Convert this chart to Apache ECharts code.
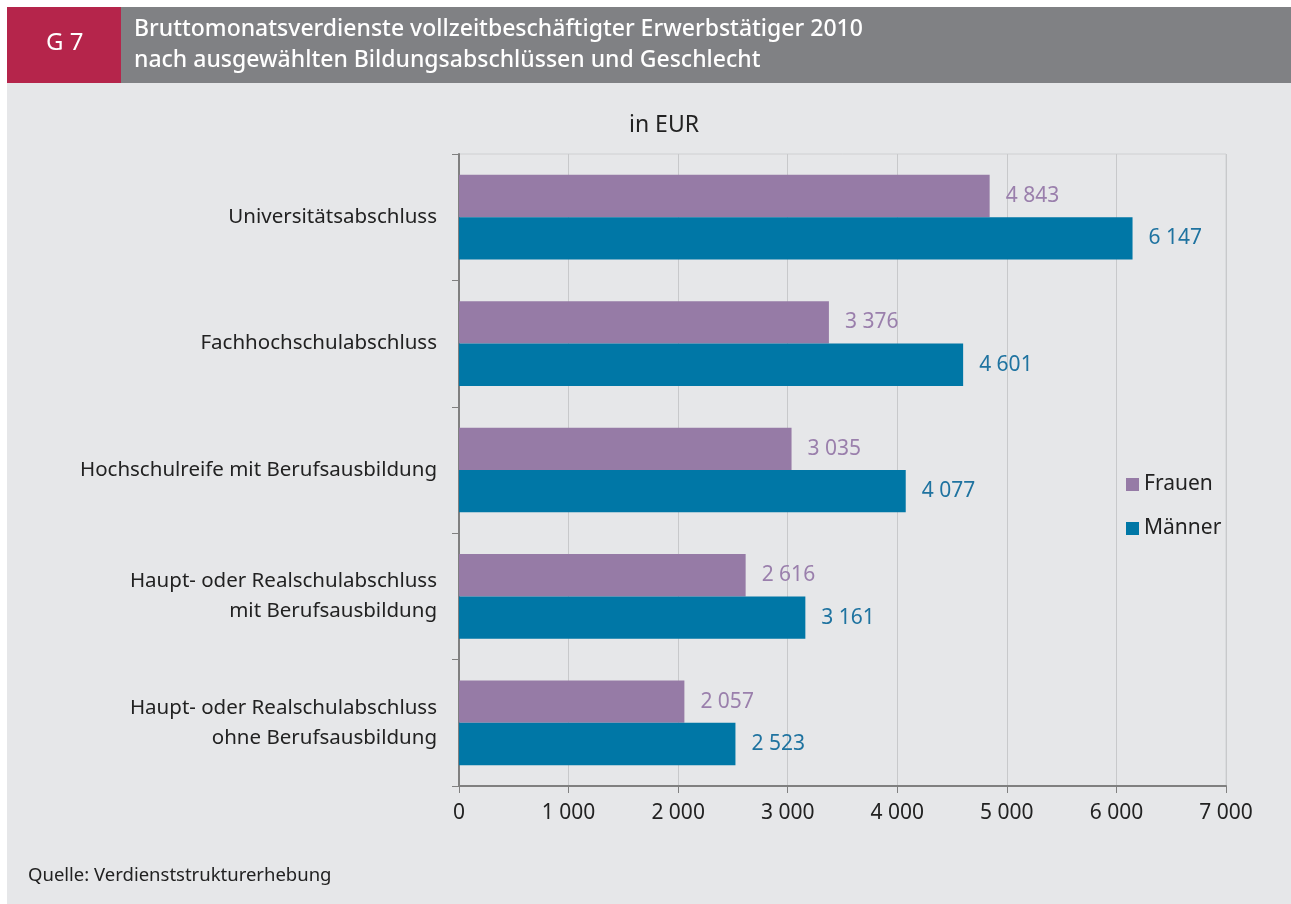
<!DOCTYPE html>
<html>
<head>
<meta charset="utf-8">
<script src="https://cdn.jsdelivr.net/npm/echarts@6/dist/echarts.min.js"></script>
<style>
  html, body { margin: 0; padding: 0; background: #fff; }
  #chart { width: 1291px; height: 904px; }
</style>
</head>
<body>
<div id="chart"></div>
<script>
// Bildungsabschlüsse (von oben nach unten)
const categories = [
  'Universitätsabschluss',
  'Fachhochschulabschluss',
  'Hochschulreife mit Berufsausbildung',
  'Haupt- oder Realschulabschluss\nmit Berufsausbildung',
  'Haupt- oder Realschulabschluss\nohne Berufsausbildung'
]
const frauen = [4843, 3376, 3035, 2616, 2057]
const maenner = [6147, 4601, 4077, 3161, 2523]
const xTicks = [0, 1000, 2000, 3000, 4000, 5000, 6000, 7000]

const font = '"Noto Sans", "Open Sans", sans-serif'
const fmt = v => String(v).replace(/\B(?=(\d{3})+(?!\d))/g, ' ')

const chart = echarts.init(document.getElementById('chart'), null, { renderer: 'canvas' })

const option = {
  animation: false,
  textStyle: { fontFamily: font },
  graphic: [
    { type: 'rect', silent: true, z: -10, shape: { x: 7, y: 7, width: 1284, height: 897 }, style: { fill: '#e6e7e9' } },
    { type: 'rect', silent: true, z: -9, shape: { x: 7, y: 7, width: 114, height: 76 }, style: { fill: '#b5254b' } },
    { type: 'rect', silent: true, z: -9, shape: { x: 121, y: 7, width: 1170, height: 76 }, style: { fill: '#808184' } },
    { type: 'text', left: 46, top: 31, style: { text: 'G 7', fill: '#fff', font: '24px ' + font } },
    { type: 'text', left: 134, top: 14, style: {
      text: 'Bruttomonatsverdienste vollzeitbeschäftigter Erwerbstätiger 2010\nnach ausgewählten Bildungsabschlüssen und Geschlecht',
      fill: '#fff', font: '500 23px ' + font, lineHeight: 31 } },
    { type: 'text', left: 28, top: 866, style: { text: 'Quelle: Verdienststrukturerhebung', fill: '#222', font: '18.5px ' + font } }
  ],
  title: {
    text: 'in EUR',
    left: 659,
    top: 109,
    textAlign: 'center',
    textStyle: { fontFamily: font, fontSize: 23, fontWeight: 'normal', color: '#222' }
  },
  legend: {
    orient: 'vertical',
    left: 1121,
    top: 469,
    itemWidth: 13,
    itemHeight: 13,
    itemGap: 23,
    icon: 'rect',
    textStyle: { fontFamily: font, fontSize: 21, color: '#222' },
    data: ['Frauen', 'Männer']
  },
  grid: {
    left: 459,
    right: 65,
    top: 154,
    bottom: 118,
    show: true,
    borderColor: '#cfd0d2',
    borderWidth: 1
  },
  xAxis: {
    type: 'value',
    min: 0,
    max: 7000,
    interval: 1000,
    axisLine: { show: true, lineStyle: { color: '#808080', width: 2 } },
    axisTick: { show: true, length: 7, lineStyle: { color: '#808080' } },
    splitLine: { show: true, lineStyle: { color: '#c8c9cb' } },
    axisLabel: {
      margin: 17,
      fontFamily: font,
      fontSize: 21,
      color: '#222',
      formatter: v => xTicks.includes(v) ? fmt(v) : ''
    }
  },
  yAxis: {
    type: 'category',
    inverse: true,
    data: categories,
    axisLine: { show: true, lineStyle: { color: '#808080', width: 2 } },
    axisTick: { show: true, length: 7, lineStyle: { color: '#808080' } },
    axisLabel: {
      margin: 22,
      fontFamily: font,
      fontSize: 20.5,
      color: '#222',
      lineHeight: 30,
      align: 'right'
    }
  },
  series: [
    {
      name: 'Frauen',
      type: 'bar',
      data: frauen,
      barGap: '0%',
      barCategoryGap: '33%',
      itemStyle: { color: '#967ba6' },
      label: {
        show: true,
        position: 'right',
        distance: 16,
        fontFamily: font,
        fontSize: 21,
        color: '#9a7fac',
        formatter: p => fmt(p.value)
      }
    },
    {
      name: 'Männer',
      type: 'bar',
      data: maenner,
      barGap: '0%',
      barCategoryGap: '33%',
      itemStyle: { color: '#0077a6' },
      label: {
        show: true,
        position: 'right',
        distance: 16,
        fontFamily: font,
        fontSize: 21,
        color: '#1f73a0',
        formatter: p => fmt(p.value)
      }
    }
  ]
}

option && chart.setOption(option)
</script>
</body>
</html>
